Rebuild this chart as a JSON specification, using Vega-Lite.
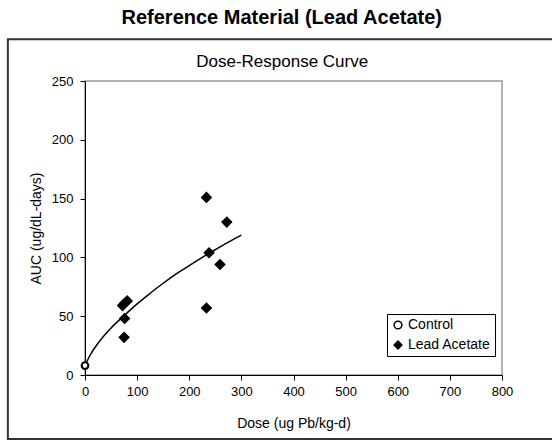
{
  "$schema": "https://vega.github.io/schema/vega-lite/v6.json",
  "width": 417,
  "height": 294,
  "autosize": {"type": "none"},
  "padding": {"left": 85, "top": 81, "right": 50, "bottom": 65},
  "background": "white",
  "title": {"text": "Reference Material (Lead Acetate)", "fontSize": 20, "fontWeight": "bold", "font": "Liberation Sans", "anchor": "middle", "frame": "bounds", "offset": 10, "color": "black"},
  "config": {
    "font": "Liberation Sans",
    "view": {"stroke": "#999999", "strokeWidth": 1.5},
    "axis": {"grid": false, "domainColor": "black", "tickColor": "black", "labelColor": "black", "titleColor": "black", "titleFontWeight": "normal", "labelFont": "Liberation Sans", "titleFont": "Liberation Sans", "labelFlush": false},
    "legend": {"title": null, "orient": "none", "legendX": 302, "legendY": 233, "padding": 4, "strokeColor": "black", "fillColor": "white", "cornerRadius": 0, "labelFontSize": 14, "labelColor": "black", "labelOffset": 3, "rowPadding": 6, "symbolSize": 60}
  },
  "datasets": {
    "points": [
      {"series": "Control", "dose": 0, "auc": 8},
      {"series": "Lead Acetate", "dose": 72, "auc": 59},
      {"series": "Lead Acetate", "dose": 76, "auc": 61},
      {"series": "Lead Acetate", "dose": 81, "auc": 63},
      {"series": "Lead Acetate", "dose": 76, "auc": 48},
      {"series": "Lead Acetate", "dose": 75, "auc": 32},
      {"series": "Lead Acetate", "dose": 233, "auc": 151},
      {"series": "Lead Acetate", "dose": 272, "auc": 130},
      {"series": "Lead Acetate", "dose": 238, "auc": 104},
      {"series": "Lead Acetate", "dose": 259, "auc": 94},
      {"series": "Lead Acetate", "dose": 233, "auc": 57}
    ],
    "curve": [
      {"dose": 0, "auc": 8},
      {"dose": 10, "auc": 17},
      {"dose": 25, "auc": 27},
      {"dose": 50, "auc": 40},
      {"dose": 75, "auc": 50.5},
      {"dose": 100, "auc": 60.5},
      {"dose": 125, "auc": 69.5},
      {"dose": 150, "auc": 78},
      {"dose": 175, "auc": 86},
      {"dose": 200, "auc": 93},
      {"dose": 225, "auc": 100},
      {"dose": 250, "auc": 106.5},
      {"dose": 275, "auc": 113},
      {"dose": 300, "auc": 119}
    ]
  },
  "resolve": {"axis": {"x": "independent"}},
  "layer": [
    {
      "data": {"values": [{"frame": "chart"}]},
      "mark": {"type": "rect", "fill": null, "stroke": "#333333", "strokeWidth": 2, "clip": false},
      "encoding": {
        "x": {"datum": -148, "type": "quantitative", "scale": {"domain": [0, 800]}, "axis": null},
        "x2": {"datum": 903},
        "y": {"datum": 285.5, "type": "quantitative", "scale": {"domain": [0, 250]},
          "axis": {"values": [0, 50, 100, 150, 200, 250], "tickSize": 5, "labelFontSize": 13, "labelPadding": 7, "title": "AUC (ug/dL-days)", "titleFontSize": 14, "titlePadding": 8}},
        "y2": {"datum": -54.4}
      }
    },
    {
      "data": {"name": "curve"},
      "mark": {"type": "line", "color": "black", "strokeWidth": 1.5, "interpolate": "monotone"},
      "encoding": {
        "x": {"field": "dose", "type": "quantitative", "scale": {"domain": [0, 800]},
          "axis": {"orient": "top", "domain": false, "ticks": false, "labels": false, "title": "Dose-Response Curve", "titleX": 196.7, "titleY": -15, "titleBaseline": "alphabetic", "titleAlign": "center", "titleFontSize": 17}},
        "y": {"field": "auc", "type": "quantitative", "scale": {"domain": [0, 250]},
          "axis": {"values": [0, 50, 100, 150, 200, 250], "tickSize": 5, "labelFontSize": 13, "labelPadding": 7, "title": "AUC (ug/dL-days)", "titleFontSize": 14, "titlePadding": 8}}
      }
    },
    {
      "data": {"name": "points"},
      "transform": [{"filter": "datum.series == 'Lead Acetate'"}],
      "mark": {"type": "point", "filled": true, "stroke": "black", "strokeWidth": 1.5, "opacity": 1, "size": 90},
      "encoding": {
        "x": {"field": "dose", "type": "quantitative", "scale": {"domain": [0, 800]},
          "axis": {"orient": "bottom", "values": [0, 100, 200, 300, 400, 500, 600, 700, 800], "tickSize": 5, "labelFontSize": 13, "labelPadding": 5, "title": "Dose (ug Pb/kg-d)", "titleFontSize": 14, "titlePadding": 18}},
        "y": {"field": "auc", "type": "quantitative", "scale": {"domain": [0, 250]},
          "axis": {"values": [0, 50, 100, 150, 200, 250], "tickSize": 5, "labelFontSize": 13, "labelPadding": 7, "title": "AUC (ug/dL-days)", "titleFontSize": 14, "titlePadding": 8}},
        "shape": {"field": "series", "type": "nominal", "scale": {"domain": ["Control", "Lead Acetate"], "range": ["circle", "diamond"]},
          "legend": {"encode": {"symbols": {"update": {"stroke": {"value": "black"}, "strokeWidth": {"value": 1.5}}}}}},
        "fill": {"field": "series", "type": "nominal", "scale": {"domain": ["Control", "Lead Acetate"], "range": ["white", "black"]},
          "legend": {"encode": {"symbols": {"update": {"stroke": {"value": "black"}, "strokeWidth": {"value": 1.5}}}}}}
      }
    },
    {
      "data": {"name": "points"},
      "transform": [{"filter": "datum.series == 'Control'"}],
      "mark": {"type": "point", "filled": true, "stroke": "black", "strokeWidth": 2, "opacity": 1, "size": 45},
      "encoding": {
        "x": {"field": "dose", "type": "quantitative", "scale": {"domain": [0, 800]}, "axis": null},
        "y": {"field": "auc", "type": "quantitative", "scale": {"domain": [0, 250]},
          "axis": {"values": [0, 50, 100, 150, 200, 250], "tickSize": 5, "labelFontSize": 13, "labelPadding": 7, "title": "AUC (ug/dL-days)", "titleFontSize": 14, "titlePadding": 8}},
        "shape": {"field": "series", "type": "nominal", "scale": {"domain": ["Control", "Lead Acetate"], "range": ["circle", "diamond"]},
          "legend": {"encode": {"symbols": {"update": {"stroke": {"value": "black"}, "strokeWidth": {"value": 1.5}}}}}},
        "fill": {"field": "series", "type": "nominal", "scale": {"domain": ["Control", "Lead Acetate"], "range": ["white", "black"]},
          "legend": {"encode": {"symbols": {"update": {"stroke": {"value": "black"}, "strokeWidth": {"value": 1.5}}}}}}
      }
    }
  ]
}
